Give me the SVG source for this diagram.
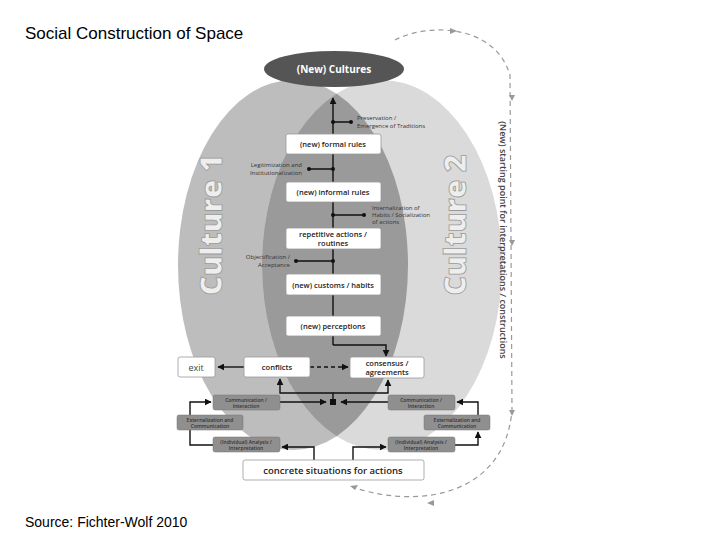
<svg xmlns="http://www.w3.org/2000/svg" width="720" height="540" viewBox="0 0 720 540">
<style>
text{font-family:"Open Sans","DejaVu Sans",sans-serif;fill:#222}
.box{fill:#fff;stroke:#999;stroke-width:0.8}
.bt{font-size:7.5px;font-weight:600;text-anchor:middle}
.g{fill:#8f8f8f;stroke:#777;stroke-width:0.5}
.gt{font-size:5px;font-weight:600;text-anchor:middle;fill:#333}
.lb{font-size:6px;fill:#333}
.ln{stroke:#111;stroke-width:1.4;fill:none}
.dsh{stroke:#999;stroke-width:1.2;fill:none;stroke-dasharray:5 4}
.cul{font-family:"Open Sans","DejaVu Sans",sans-serif;font-size:30px;font-weight:800;fill:#eee;stroke:#999;stroke-width:0.8;text-anchor:middle}
</style>
<defs>
<marker id="a" viewBox="0 0 10 10" refX="9" refY="5" markerWidth="5" markerHeight="5" orient="auto"><path d="M0,0L10,5L0,10z" fill="#111"/></marker>
<clipPath id="c1"><ellipse cx="293" cy="265" rx="115" ry="185"/></clipPath>
</defs>
<rect width="720" height="540" fill="#fff"/>
<text x="25" y="39" style="font-family:'Liberation Sans',sans-serif;font-size:17px;fill:#000">Social Construction of Space</text>
<text x="25" y="527" style="font-family:'Liberation Sans',sans-serif;font-size:14px;fill:#000">Source: Fichter-Wolf 2010</text>
<g id="culture1"><ellipse cx="293" cy="265" rx="115" ry="185" fill="#bdbdbd"/></g>
<g id="culture2"><ellipse cx="382" cy="265" rx="120" ry="185" fill="#dadada"/>
<ellipse cx="382" cy="265" rx="120" ry="185" fill="#9a9a9a" clip-path="url(#c1)"/></g>
<text class="cul" transform="translate(222,225) rotate(-90)">Culture 1</text>
<text class="cul" transform="translate(466,225) rotate(-90)">Culture 2</text>
<g id="newcultures"><ellipse cx="334" cy="69" rx="70" ry="18" fill="#555"/><text x="334" y="73" style="font-size:10px;font-weight:700;fill:#fff;text-anchor:middle">(New) Cultures</text></g>
<g id="connectors">
<path class="ln" d="M333,345V98" marker-end="url(#a)"/>
<path class="ln" d="M333,345H386V356" marker-end="url(#a)"/>
<path class="ln" d="M333,122H351M333,169H309M333,215H364M333,261H296" stroke-width="1"/>
<g fill="#111"><circle cx="333" cy="122" r="2"/><circle cx="351" cy="122" r="2"/><circle cx="309" cy="169" r="2"/><circle cx="333" cy="169" r="2"/><circle cx="333" cy="215" r="2"/><circle cx="364" cy="215" r="2"/><circle cx="296" cy="261" r="2"/><circle cx="333" cy="261" r="2"/></g>
<path class="ln" d="M244,367H218" marker-end="url(#a)"/>
<path class="ln" d="M310,367H348" stroke-dasharray="4 3" marker-end="url(#a)"/>
<path class="ln" d="M314,460V447H282" marker-end="url(#a)"/>
<path class="ln" d="M353,460V447H386" marker-end="url(#a)"/>
<path class="ln" d="M213,445H190V417" marker-end="url(#a)"/>
<path class="ln" d="M190,415V402H211" marker-end="url(#a)"/>
<path class="ln" d="M280,402H326" marker-end="url(#a)"/>
<path class="ln" d="M388,402H341" marker-end="url(#a)"/>
<path class="ln" d="M333,402V393H280V379" marker-end="url(#a)"/>
<path class="ln" d="M333,393H388V380" marker-end="url(#a)"/>
<path class="ln" d="M455,445H478V432" marker-end="url(#a)"/>
<path class="ln" d="M478,415V402H457" marker-end="url(#a)"/>
<rect x="330" y="399" width="6" height="6" fill="#111"/>
<path class="dsh" d="M395,40C430,22 495,25 510,75L512,410C505,495 420,510 352,487"/>
<g fill="#999"><path d="M450,28l7,3l-7,3z"/><path d="M509,95l3,6l3,-6z"/><path d="M509,240l3,6l3,-6z"/><path d="M509,410l3,6l3,-6z"/><path d="M434,500l-7,3l7,3z"/><path d="M350,486l8,-1l-3,5z"/></g>
</g>
<text class="lb" x="357" y="120">Preservation /</text><text class="lb" x="357" y="128">Emergence of Traditions</text>
<text class="lb" x="302" y="167" text-anchor="end">Legitimization and</text><text class="lb" x="302" y="175" text-anchor="end">Institutionalization</text>
<text class="lb" x="372" y="210">Internalization of</text><text class="lb" x="372" y="217">Habits / Socialization</text><text class="lb" x="372" y="224">of actions</text>
<text class="lb" x="290" y="259" text-anchor="end">Objectification  /</text><text class="lb" x="290" y="267" text-anchor="end">Acceptance</text>
<g id="formal"><rect class="box" x="286" y="134" width="95" height="20" rx="2"/><text class="bt" x="333" y="147">(new) formal rules</text></g>
<g id="informal"><rect class="box" x="286" y="182" width="95" height="20" rx="2"/><text class="bt" x="333" y="195">(new) informal rules</text></g>
<g id="repetitive"><rect class="box" x="286" y="228" width="95" height="21" rx="2"/><text class="bt" x="333" y="237">repetitive actions /</text><text class="bt" x="333" y="246">routines</text></g>
<g id="customs"><rect class="box" x="286" y="274" width="95" height="21" rx="2"/><text class="bt" x="333" y="288">(new) customs / habits</text></g>
<g id="perceptions"><rect class="box" x="286" y="316" width="95" height="20" rx="2"/><text class="bt" x="333" y="329">(new) perceptions</text></g>
<g id="exit"><rect class="box" x="178" y="357" width="37" height="20" rx="2"/><text x="196" y="371" style="font-size:9px;text-anchor:middle;fill:#444">exit</text></g>
<g id="conflicts"><rect class="box" x="244" y="357" width="66" height="20" rx="2"/><text class="bt" x="277" y="370">conflicts</text></g>
<g id="consensus"><rect class="box" x="350" y="357" width="74" height="21" rx="2"/><text class="bt" x="387" y="366">consensus /</text><text class="bt" x="387" y="375">agreements</text></g>
<g id="comm1"><rect class="g" x="213" y="395" width="67" height="15" rx="2"/><text class="gt" x="246" y="401.5">Communication /</text><text class="gt" x="246" y="407.5">Interaction</text></g>
<g id="ext1"><rect class="g" x="177" y="415" width="66" height="15" rx="2"/><text class="gt" x="210" y="421.5">Externalization and</text><text class="gt" x="210" y="427.5">Communication</text></g>
<g id="ana1"><rect class="g" x="213" y="437" width="67" height="15" rx="2"/><text class="gt" x="246" y="443.5">(Individual) Analysis /</text><text class="gt" x="246" y="449.5">Interpretation</text></g>
<g id="comm2"><rect class="g" x="388" y="395" width="67" height="15" rx="2"/><text class="gt" x="421" y="401.5">Communication /</text><text class="gt" x="421" y="407.5">Interaction</text></g>
<g id="ext2"><rect class="g" x="424" y="415" width="66" height="15" rx="2"/><text class="gt" x="457" y="421.5">Externalization and</text><text class="gt" x="457" y="427.5">Communication</text></g>
<g id="ana2"><rect class="g" x="388" y="437" width="67" height="15" rx="2"/><text class="gt" x="421" y="443.5">(Individual) Analysis /</text><text class="gt" x="421" y="449.5">Interpretation</text></g>
<g id="concrete"><rect class="box" x="243" y="460" width="181" height="20" rx="2"/><text x="333" y="474" style="font-size:9.5px;font-weight:600;text-anchor:middle">concrete situations for actions</text></g>
<text transform="translate(500,240) rotate(90)" style="font-size:9px;font-weight:600;text-anchor:middle;fill:#444">(New) starting point for interpretations / constructions</text>
</svg>
